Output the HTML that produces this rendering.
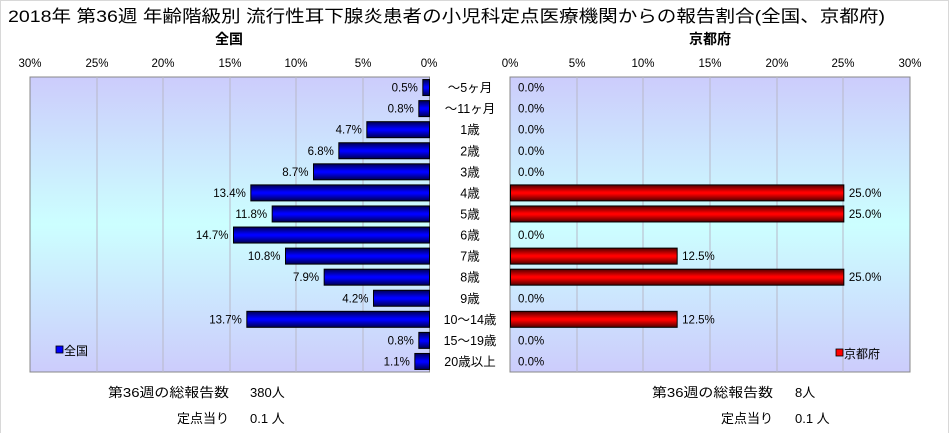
<!DOCTYPE html>
<html><head><meta charset="utf-8"><style>
html,body{margin:0;padding:0;background:#fff;}
body{width:949px;height:433px;overflow:hidden;}
svg{display:block;font-family:"Liberation Sans","Noto Sans CJK JP",sans-serif;}
</style></head><body>
<svg width="949" height="433" viewBox="0 0 949 433" xmlns="http://www.w3.org/2000/svg">
<defs>
<linearGradient id="bg" x1="0" y1="0" x2="0" y2="1">
<stop offset="0" stop-color="#ccccfc"/><stop offset="0.5" stop-color="#ccffff"/><stop offset="1" stop-color="#ccccfc"/>
</linearGradient>
<linearGradient id="bl" x1="0" y1="0" x2="0" y2="1">
<stop offset="0" stop-color="#000050"/><stop offset="0.45" stop-color="#0000ff"/><stop offset="0.55" stop-color="#0000ff"/><stop offset="1" stop-color="#000050"/>
</linearGradient>
<linearGradient id="rd" x1="0" y1="0" x2="0" y2="1">
<stop offset="0" stop-color="#500000"/><stop offset="0.45" stop-color="#ff0000"/><stop offset="0.55" stop-color="#ff0000"/><stop offset="1" stop-color="#500000"/>
</linearGradient>
</defs>
<rect x="0.5" y="0.5" width="948" height="440" fill="none" stroke="#d8d8d8"/>
<text x="8" y="22" font-size="17" fill="#000" textLength="877" lengthAdjust="spacingAndGlyphs">2018年 第36週 年齢階級別 流行性耳下腺炎患者の小児科定点医療機関からの報告割合(全国、京都府)</text>
<text x="229" y="44" font-size="14" text-anchor="middle" font-weight="bold">全国</text>
<text x="710" y="44" font-size="14" text-anchor="middle" font-weight="bold">京都府</text>
<g font-size="11.5" text-anchor="middle">
<text x="30" y="67">30%</text><text x="97" y="67">25%</text><text x="163" y="67">20%</text><text x="230" y="67">15%</text><text x="296" y="67">10%</text><text x="363" y="67">5%</text><text x="429" y="67">0%</text>
<text x="510" y="67">0%</text><text x="577" y="67">5%</text><text x="643" y="67">10%</text><text x="710" y="67">15%</text><text x="777" y="67">20%</text><text x="843" y="67">25%</text><text x="910" y="67">30%</text>
</g>
<rect x="30" y="77" width="399.5" height="295" fill="url(#bg)" stroke="#888"/>
<rect x="510" y="77" width="400" height="295" fill="url(#bg)" stroke="#888"/>
<g stroke="#b8b8c8" stroke-width="1">
<line x1="97" y1="77" x2="97" y2="372"/><line x1="163" y1="77" x2="163" y2="372"/><line x1="230" y1="77" x2="230" y2="372"/><line x1="296" y1="77" x2="296" y2="372"/><line x1="363" y1="77" x2="363" y2="372"/>
<line x1="577" y1="77" x2="577" y2="372"/><line x1="643" y1="77" x2="643" y2="372"/><line x1="710" y1="77" x2="710" y2="372"/><line x1="777" y1="77" x2="777" y2="372"/><line x1="843" y1="77" x2="843" y2="372"/>
</g>
<g id="bars" font-size="11.5"></g>
<rect x="56" y="346" width="7" height="7" fill="#0000ff" stroke="#000" stroke-width="0.8"/>
<text x="64" y="355" font-size="12">全国</text>
<rect x="836" y="349" width="7" height="7" fill="#ff0000" stroke="#000" stroke-width="0.8"/>
<text x="844" y="358" font-size="12">京都府</text>
<g font-size="13">
<text x="108" y="397" textLength="121" lengthAdjust="spacingAndGlyphs">第36週の総報告数</text><text x="250" y="397">380人</text>
<text x="229" y="423" text-anchor="end">定点当り</text><text x="250" y="423">0.1 人</text>
<text x="652" y="397" textLength="121" lengthAdjust="spacingAndGlyphs">第36週の総報告数</text><text x="795" y="397">8人</text>
<text x="773" y="423" text-anchor="end">定点当り</text><text x="795" y="423">0.1 人</text>
</g>
</svg>
<script>
var cats=["～5ヶ月","～11ヶ月","1歳","2歳","3歳","4歳","5歳","6歳","7歳","8歳","9歳","10～14歳","15～19歳","20歳以上"];
var L=[0.5,0.8,4.7,6.8,8.7,13.4,11.8,14.7,10.8,7.9,4.2,13.7,0.8,1.1];
var R=[0,0,0,0,0,25,25,0,12.5,25,0,12.5,0,0];
var g=document.getElementById("bars"),h="";
var s=400/30;
for(var i=0;i<14;i++){
 var c=77+295/14*(i+0.5);
 var w=L[i]*s, x0=429.5-w;
 h+='<rect x="'+x0+'" y="'+(c-8)+'" width="'+w+'" height="16" fill="url(#bl)" stroke="#000" stroke-width="1"/>';
 h+='<text x="'+(x0-5)+'" y="'+(c+4)+'" text-anchor="end">'+L[i].toFixed(1)+'%</text>';
 h+='<text x="470" y="'+(c+4.5)+'" text-anchor="middle" font-size="12.5">'+cats[i]+'</text>';
 if(R[i]>0){var wr=R[i]*s;
  h+='<rect x="510.5" y="'+(c-8)+'" width="'+wr+'" height="16" fill="url(#rd)" stroke="#000" stroke-width="1"/>';
  h+='<text x="'+(510.5+wr+5)+'" y="'+(c+4)+'">'+R[i].toFixed(1)+'%</text>';
 } else {
  h+='<text x="518" y="'+(c+4)+'">0.0%</text>';
 }
}
g.innerHTML=h;
</script>
</body></html>
